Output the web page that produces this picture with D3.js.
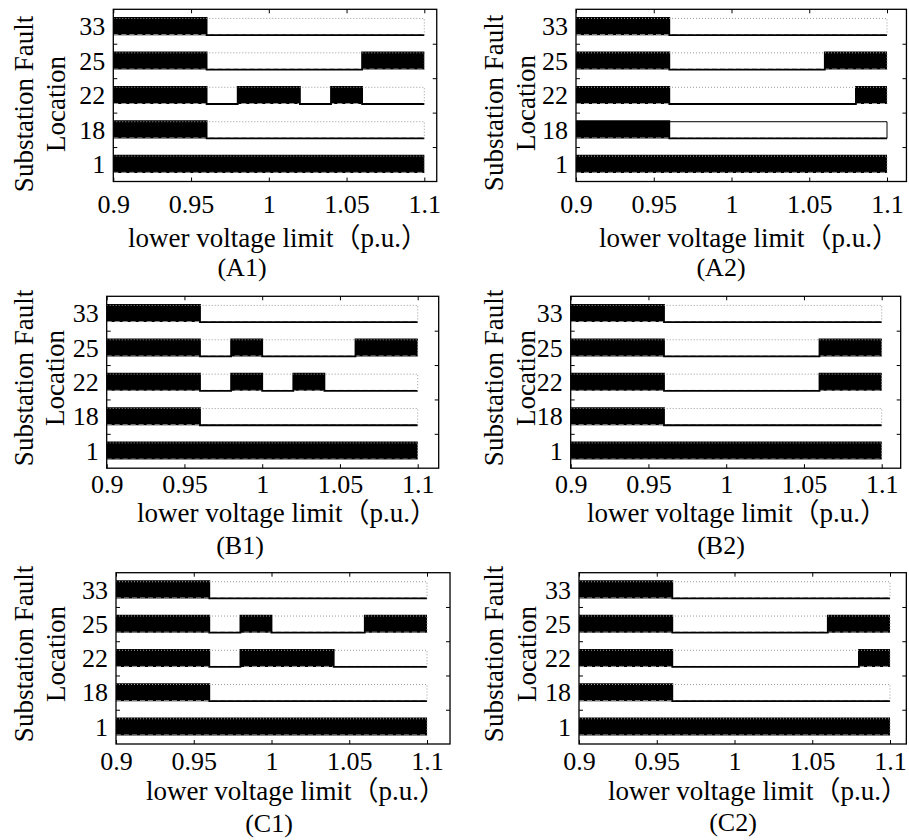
<!DOCTYPE html>
<html>
<head>
<meta charset="utf-8">
<script src="https://cdn.jsdelivr.net/npm/d3@7"></script>
<style>
body { margin: 0; background: #fff; }
</style>
</head>
<body>
<script>
var faults = ["1", "18", "22", "25", "33"];
var xTicks = [0.9, 0.95, 1, 1.05, 1.1];
var yTicks = [1.5, 2.5, 3.5, 4.5];
var xTitle = "lower voltage limit\uff08p.u.\uff09";

// black segments for each fault location, same order as faults (1, 18, 22, 25, 33)
var segA1 = [[[0.9, 1.1]], [[0.9, 0.96]], [[0.9, 0.96], [0.98, 1.02], [1.04, 1.06]], [[0.9, 0.96], [1.06, 1.1]], [[0.9, 0.96]]];
var segA2 = [[[0.9, 1.1]], [[0.9, 0.96]], [[0.9, 0.96], [1.08, 1.1]], [[0.9, 0.96], [1.06, 1.1]], [[0.9, 0.96]]];
var segB1 = [[[0.9, 1.1]], [[0.9, 0.96]], [[0.9, 0.96], [0.98, 1.0], [1.02, 1.04]], [[0.9, 0.96], [0.98, 1.0], [1.06, 1.1]], [[0.9, 0.96]]];
var segB2 = [[[0.9, 1.1]], [[0.9, 0.96]], [[0.9, 0.96], [1.06, 1.1]], [[0.9, 0.96], [1.06, 1.1]], [[0.9, 0.96]]];
var segC1 = [[[0.9, 1.1]], [[0.9, 0.96]], [[0.9, 0.96], [0.98, 1.04]], [[0.9, 0.96], [0.98, 1.0], [1.06, 1.1]], [[0.9, 0.96]]];
var segC2 = [[[0.9, 1.1]], [[0.9, 0.96]], [[0.9, 0.96], [1.08, 1.1]], [[0.9, 0.96], [1.06, 1.1]], [[0.9, 0.96]]];

var FONT = "'Times New Roman', 'Liberation Serif', 'Noto Sans CJK SC', serif";
var PX = 1555; // pixels per p.u.

var panels = [
	{cap: "(A1)", seg: segA1, left: 113.3, top: 9.3, bottom: 181.5, xmax: 1.108, tickDy: 30, labDy: 65, capDy: 94, labX: 278, capX: 242, yl1: 33, yl2: 65, ylY: 104},
	{cap: "(A2)", seg: segA2, left: 576, top: 9.3, bottom: 181.5, xmax: 1.1125, tickDy: 30, labDy: 65, capDy: 94, labX: 749, capX: 721, yl1: 503, yl2: 535, ylY: 103, solidTop: "18"},
	{cap: "(B1)", seg: segB1, left: 106.7, top: 296.3, bottom: 468.2, xmax: 1.1135, tickDy: 24, labDy: 54, capDy: 86, labX: 287, capX: 240, yl1: 33, yl2: 64, ylY: 378},
	{cap: "(B2)", seg: segB2, left: 570.7, top: 296.3, bottom: 468.2, xmax: 1.1122, tickDy: 24, labDy: 54, capDy: 86, labX: 737, capX: 721, yl1: 503, yl2: 535, ylY: 378},
	{cap: "(C1)", seg: segC1, left: 116, top: 572.7, bottom: 744, xmax: 1.1148, tickDy: 25, labDy: 56, capDy: 88, labX: 296, capX: 269, yl1: 33, yl2: 65, ylY: 654},
	{cap: "(C2)", seg: segC2, left: 579, top: 572.7, bottom: 744, xmax: 1.1105, tickDy: 25, labDy: 56, capDy: 87, labX: 758, capX: 733, yl1: 503, yl2: 536, ylY: 654}
];

var svg = d3.select("body").append("svg")
	.attr("width", 909)
	.attr("height", 840)
	.style("font-family", FONT);

// turn black segments into step points
function steps(segs) {
	var pts = [];
	var cur = 0.9;
	segs.forEach(function(s) {
		if (s[0] > cur) pts.push({x: cur, v: 0});
		pts.push({x: s[0], v: 1});
		cur = s[1];
	});
	if (cur < 1.1) pts.push({x: cur, v: 0});
	pts.push({x: 1.1, v: pts[pts.length - 1].v});
	return pts;
}

panels.forEach(function(p) {
	var right = p.left + (p.xmax - 0.9) * PX;
	var x = d3.scaleLinear().domain([0.9, p.xmax]).range([p.left, right]);
	var y = d3.scaleLinear().domain([0.5, 5.5]).range([p.bottom, p.top]);
	var g = svg.append("g");

	faults.forEach(function(f, i) {
		var k = i + 1;
		var yb = y(k - 0.25), yt = y(k + 0.25);
		var pts = steps(p.seg[i]);
		g.append("path")
			.attr("d", d3.area().curve(d3.curveStepAfter)
				.x(function(d) { return x(d.x); })
				.y0(yb)
				.y1(function(d) { return d.v ? yt : yb; })(pts))
			.attr("fill", "#000");
		g.append("line") // dashed base
			.attr("x1", x(0.9)).attr("x2", x(1.1))
			.attr("y1", yb - 0.5).attr("y2", yb - 0.5)
			.attr("stroke", "#999")
			.attr("stroke-width", 1)
			.attr("stroke-dasharray", "5,3");
		g.append("path")
			.attr("d", d3.line().curve(d3.curveStepAfter)
				.x(function(d) { return x(d.x); })
				.y(function(d) { return d.v ? yt : yb; })(pts))
			.attr("fill", "none")
			.attr("stroke", "#000")
			.attr("stroke-width", 1.8);
		var solid = p.solidTop === f;
		g.append("path") // dotted upper limit
			.attr("d", "M" + x(0.9) + "," + (yt + 0.5) + "H" + x(1.1) + "V" + yb)
			.attr("fill", "none")
			.attr("stroke", solid ? "#000" : "#999")
			.attr("stroke-width", 1)
			.attr("stroke-dasharray", solid ? null : "1,2");
	});

	// ticks
	g.append("g")
		.attr("transform", "translate(0," + p.bottom + ")")
		.call(d3.axisBottom(x).tickValues(xTicks).tickSize(-4)
			.tickPadding(p.tickDy - 26 * 0.71 + 1)
			.tickFormat(function(d) { return d3.format("")(d); }))
		.call(function(a) { a.select(".domain").remove(); })
		.selectAll("text")
		.attr("font-family", FONT)
		.attr("font-size", 26)
		.attr("fill", "#000");
	g.append("g")
		.attr("transform", "translate(0," + p.top + ")")
		.call(d3.axisTop(x).tickValues(xTicks).tickSize(-4).tickFormat(""))
		.call(function(a) { a.select(".domain").remove(); });
	g.append("g")
		.attr("transform", "translate(" + p.left + ",0)")
		.call(d3.axisLeft(y).tickValues(yTicks).tickSize(-4).tickFormat(""))
		.call(function(a) { a.select(".domain").remove(); });
	g.append("g")
		.attr("transform", "translate(" + right + ",0)")
		.call(d3.axisRight(y).tickValues(yTicks).tickSize(-4).tickFormat(""))
		.call(function(a) { a.select(".domain").remove(); });
	g.append("g")
		.attr("transform", "translate(" + p.left + ",0)")
		.call(d3.axisLeft(y).tickValues([1, 2, 3, 4, 5]).tickSize(0).tickPadding(8)
			.tickFormat(function(d) { return faults[d - 1]; }))
		.call(function(a) { a.select(".domain").remove(); })
		.selectAll("text")
		.attr("font-family", FONT)
		.attr("font-size", 26)
		.attr("fill", "#000");

	// frame
	g.append("rect")
		.attr("x", p.left).attr("y", p.top)
		.attr("width", right - p.left)
		.attr("height", p.bottom - p.top)
		.attr("fill", "none")
		.attr("stroke", "#000")
		.attr("stroke-width", 1.3);

	// titles
	g.append("text")
		.attr("x", p.labX).attr("y", p.bottom + p.labDy)
		.attr("text-anchor", "middle")
		.attr("font-size", 27)
		.text(xTitle);
	g.append("text")
		.attr("x", p.capX).attr("y", p.bottom + p.capDy)
		.attr("text-anchor", "middle")
		.attr("font-size", 26)
		.text(p.cap);
	g.append("text")
		.attr("transform", "translate(" + p.yl1 + "," + p.ylY + ")rotate(-90)")
		.attr("text-anchor", "middle")
		.attr("font-size", 27)
		.text("Substation Fault");
	g.append("text")
		.attr("transform", "translate(" + p.yl2 + "," + p.ylY + ")rotate(-90)")
		.attr("text-anchor", "middle")
		.attr("font-size", 27)
		.text("Location");
});
</script>
</body>
</html>
